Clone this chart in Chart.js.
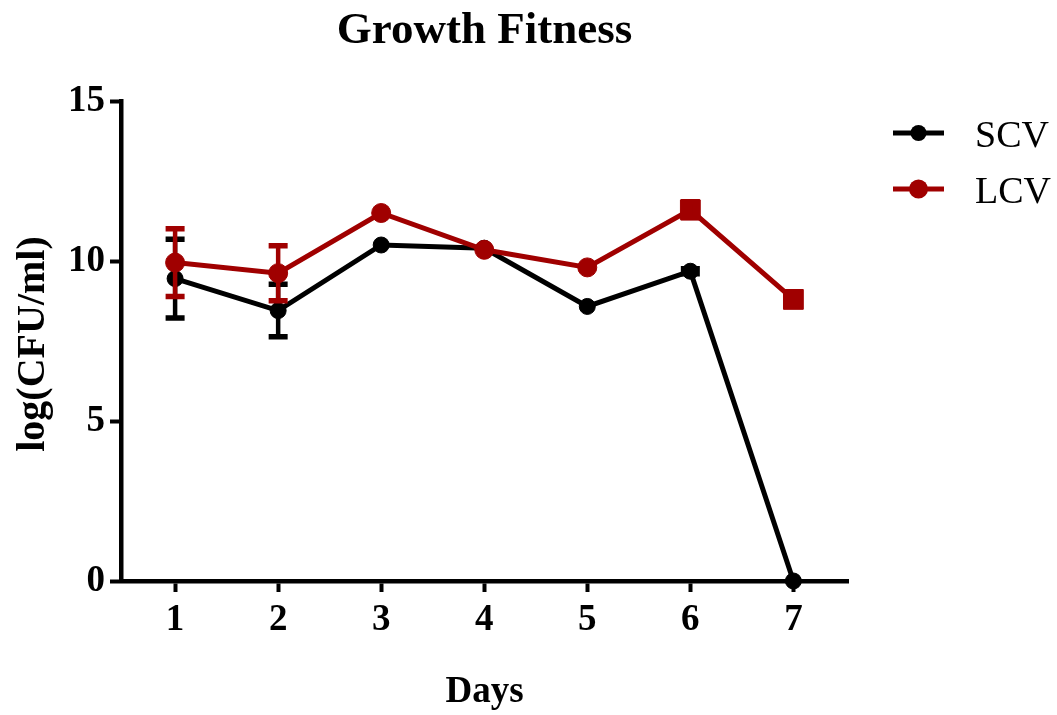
<!DOCTYPE html>
<html>
<head>
<meta charset="utf-8">
<title>Growth Fitness</title>
<script src="https://cdn.jsdelivr.net/npm/chart.js@4.4.0/dist/chart.umd.min.js"></script>
<style>
  html, body { margin: 0; padding: 0; background: #ffffff; }
  #wrap { width: 1057px; height: 715px; position: relative; }
</style>
</head>
<body>
<div id="wrap"><canvas id="chart" width="1057" height="715"></canvas></div>
<script>
// Colony counts per day (log CFU/ml), mean and SEM for each variant
const days = [1, 2, 3, 4, 5, 6, 7];
const scvMean = [9.45, 8.45, 10.5, 10.4, 8.58, 9.68, 0];
const scvErr  = [1.23, 0.82, 0, 0, 0, 0.08, 0];
const lcvMean = [9.95, 9.62, 11.5, 10.35, 9.8, 11.6, 8.8];
const lcvErr  = [1.06, 0.86, 0, 0, 0, 0.25, 0.1];
const yTicks = [0, 5, 10, 15];

const BLACK = '#000000';
const RED = '#a00000';
const SERIF = '"Liberation Serif", "Times New Roman", serif';

function pts(means) { return days.map((d, i) => ({ x: d, y: means[i] })); }

// Error bars, drawn right after their own dataset so later series sit on top
const errorBars = {
  id: 'errorBars',
  afterDatasetDraw(chart, args) {
    const ds = chart.data.datasets[args.index];
    if (!ds.errors) return;
    const ctx = chart.ctx, xs = chart.scales.x, ys = chart.scales.y;
    ctx.save();
    ctx.strokeStyle = ds.borderColor;
    ds.data.forEach((p, i) => {
      const e = ds.errors[i];
      if (!e) return;
      const x = xs.getPixelForValue(p.x);
      const yt = ys.getPixelForValue(p.y + e);
      const yb = ys.getPixelForValue(p.y - e);
      ctx.lineWidth = 4.5;
      ctx.beginPath(); ctx.moveTo(x, yt); ctx.lineTo(x, yb); ctx.stroke();
      ctx.lineWidth = 5.5;
      ctx.beginPath();
      ctx.moveTo(x - 9.5, yt); ctx.lineTo(x + 9.5, yt);
      ctx.moveTo(x - 9.5, yb); ctx.lineTo(x + 9.5, yb);
      ctx.stroke();
    });
    ctx.restore();
  }
};

// Title, axis titles and the legend on the right
const decorations = {
  id: 'decorations',
  afterDraw(chart) {
    const ctx = chart.ctx, a = chart.chartArea;
    const cx = (a.left + a.right) / 2;
    ctx.save();
    ctx.fillStyle = BLACK;
    ctx.textAlign = 'center';
    ctx.textBaseline = 'alphabetic';
    ctx.font = 'bold 45px ' + SERIF;
    ctx.fillText('Growth Fitness', cx, 43);
    ctx.font = 'bold 37px ' + SERIF;
    ctx.fillText('Days', cx, 702);
    ctx.save();
    ctx.translate(44, (a.top + a.bottom) / 2 + 3);
    ctx.rotate(-Math.PI / 2);
    ctx.font = 'bold 40px ' + SERIF;
    ctx.fillText('log(CFU/ml)', 0, 0);
    ctx.restore();

    const items = [
      { label: 'SCV', color: BLACK, r: 8, y: 133, base: 147 },
      { label: 'LCV', color: RED, r: 9.5, y: 189, base: 203 }
    ];
    items.forEach(it => {
      ctx.strokeStyle = it.color;
      ctx.lineWidth = 5;
      ctx.beginPath(); ctx.moveTo(893, it.y); ctx.lineTo(944, it.y); ctx.stroke();
      ctx.fillStyle = it.color;
      ctx.beginPath(); ctx.arc(918.5, it.y, it.r, 0, Math.PI * 2); ctx.fill();
      ctx.fillStyle = BLACK;
      ctx.textAlign = 'left';
      ctx.font = '38px ' + SERIF;
      ctx.fillText(it.label, 975, it.base);
    });
    ctx.restore();
  }
};

new Chart(document.getElementById('chart'), {
  type: 'line',
  data: {
    datasets: [
      {
        label: 'LCV',
        data: pts(lcvMean),
        errors: lcvErr,
        borderColor: RED,
        backgroundColor: RED,
        borderWidth: 5,
        pointRadius: ctx => (ctx.dataIndex >= 5 ? 14 : 9.5),
        pointStyle: ctx => (ctx.dataIndex >= 5 ? 'rect' : 'circle'),
        pointBackgroundColor: RED,
        pointBorderColor: RED,
        pointBorderWidth: 1,
        tension: 0,
        clip: false
      },
      {
        label: 'SCV',
        data: pts(scvMean),
        errors: scvErr,
        borderColor: BLACK,
        backgroundColor: BLACK,
        borderWidth: 5,
        pointRadius: 8,
        pointStyle: 'circle',
        pointBackgroundColor: BLACK,
        pointBorderColor: BLACK,
        pointBorderWidth: 1,
        tension: 0,
        clip: false
      }
    ]
  },
  options: {
    responsive: false,
    animation: false,
    layout: { padding: { left: 0, right: 209, top: 101, bottom: 0 } },
    plugins: { legend: { display: false }, title: { display: false }, tooltip: { enabled: false } },
    scales: {
      x: {
        type: 'linear',
        min: 0.475,
        max: 7.53,
        afterBuildTicks: s => { s.ticks = days.map(v => ({ value: v })); },
        afterFit: s => { s.height = 134; },
        border: { display: true, color: BLACK, width: 4.5 },
        grid: { drawOnChartArea: false, drawTicks: true, tickLength: 11, tickWidth: 4, color: BLACK },
        ticks: { color: BLACK, padding: 6, maxRotation: 0, font: { family: SERIF, size: 37, weight: 'bold' } }
      },
      y: {
        type: 'linear',
        min: 0,
        max: 15,
        afterBuildTicks: s => { s.ticks = yTicks.map(v => ({ value: v })); },
        afterFit: s => { s.width = 121; },
        border: { display: true, color: BLACK, width: 4.5 },
        grid: { drawOnChartArea: false, drawTicks: true, tickLength: 11, tickWidth: 4, color: BLACK },
        ticks: { color: BLACK, padding: 5, font: { family: SERIF, size: 37, weight: 'bold' } }
      }
    }
  },
  plugins: [errorBars, decorations]
});
</script>
</body>
</html>
